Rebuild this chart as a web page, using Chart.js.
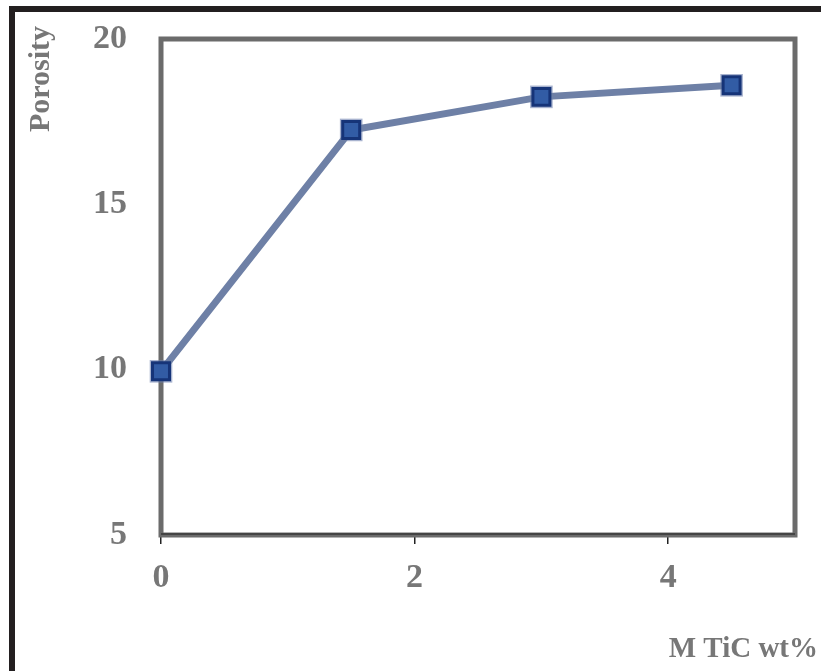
<!DOCTYPE html>
<html>
<head>
<meta charset="utf-8">
<script src="https://cdn.jsdelivr.net/npm/chart.js@4"></script>
<style>
  body { margin: 0; background: #fff; }
  canvas { display: block; }
</style>
</head>
<body>
<canvas id="chartCanvas" width="821" height="671"></canvas>
<script>
// data
const ticWt = [0, 1.5, 3, 4.5];
const porosity = [9.95, 17.25, 18.25, 18.6];
const xTickValues = [0, 2, 4];
const yTickValues = [5, 10, 15, 20];

const gray = "#777777";
const tickFont = { family: "'Liberation Serif', 'Times New Roman', serif", size: 34, weight: "bold" };

const points = ticWt.map((x, i) => ({ x: x, y: porosity[i] }));

// frame, plot border and axis titles
const decor = {
  id: "decor",
  beforeDraw(chart) {
    const ctx = chart.ctx;
    ctx.save();
    ctx.fillStyle = "#fff";
    ctx.fillRect(0, 0, chart.width, chart.height);
    ctx.strokeStyle = "#231f20";
    ctx.lineWidth = 6;
    ctx.strokeRect(12, 9, 840, 700);
    ctx.restore();
  },
  beforeDatasetsDraw(chart) {
    const { ctx, chartArea: a } = chart;
    ctx.save();
    ctx.strokeStyle = "#6b6b6b";
    ctx.lineWidth = 5;
    ctx.strokeRect(a.left, a.top, a.right - a.left, a.bottom - a.top);
    ctx.strokeStyle = "#444";
    ctx.lineWidth = 2;
    ctx.beginPath();
    ctx.moveTo(a.left, a.bottom - 1);
    ctx.lineTo(a.right, a.bottom - 1);
    ctx.stroke();
    ctx.restore();
  },
  afterDraw(chart) {
    const ctx = chart.ctx;
    ctx.save();
    ctx.fillStyle = gray;
    ctx.font = "bold 30px 'Liberation Serif', 'Times New Roman', serif";
    ctx.translate(49, 79);
    ctx.rotate(-Math.PI / 2);
    ctx.textAlign = "center";
    ctx.textBaseline = "alphabetic";
    ctx.fillText("Porosity", 0, 0);
    ctx.restore();

    ctx.save();
    ctx.fillStyle = gray;
    ctx.font = "bold 29px 'Liberation Serif', 'Times New Roman', serif";
    ctx.textAlign = "right";
    ctx.textBaseline = "alphabetic";
    ctx.fillText("M TiC wt%", 818, 657);
    ctx.restore();
  }
};

new Chart(document.getElementById("chartCanvas").getContext("2d"), {
  type: "scatter",
  data: {
    datasets: [
      {
        // main series
        data: points,
        showLine: true,
        borderColor: "rgb(110,128,166)",
        borderWidth: 7,
        pointStyle: "rect",
        pointRadius: 12,
        pointBackgroundColor: "rgb(50,92,165)",
        pointBorderColor: "rgb(22,52,120)",
        pointBorderWidth: 3,
        clip: false,
        order: 1,
      },
      {
        // soft halo round the markers
        data: points,
        showLine: false,
        pointStyle: "rect",
        pointRadius: 16,
        pointBackgroundColor: "rgba(110,128,175,0.6)",
        pointBorderWidth: 0,
        clip: false,
        order: 2,
      },
    ],
  },
  options: {
    responsive: false,
    animation: false,
    layout: { autoPadding: false, padding: { top: 39, right: 26, left: 0, bottom: 0 } },
    plugins: { legend: { display: false }, tooltip: { enabled: false } },
    scales: {
      x: {
        type: "linear",
        min: 0,
        max: 5,
        afterBuildTicks: (s) => { s.ticks = xTickValues.map((v) => ({ value: v })); },
        afterFit: (s) => { s.height = 136; },
        border: { display: false },
        grid: { drawOnChartArea: false, tickLength: 9, color: "#222", lineWidth: 1.5 },
        ticks: { font: tickFont, color: gray, padding: 14 },
      },
      y: {
        min: 5,
        max: 20,
        afterBuildTicks: (s) => { s.ticks = yTickValues.map((v) => ({ value: v })); },
        afterFit: (s) => { s.width = 161; s.paddingTop = 0; s.paddingBottom = 0; },
        border: { display: false },
        grid: { display: false, drawTicks: false },
        ticks: { font: tickFont, color: gray, padding: 34 },
      },
    },
  },
  plugins: [decor],
});
</script>
</body>
</html>
